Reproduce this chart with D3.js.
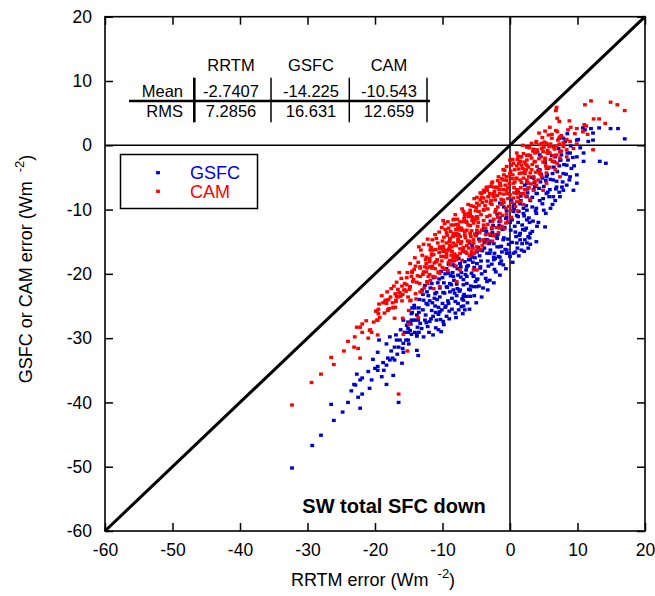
<!DOCTYPE html>
<html>
<head>
<meta charset="utf-8">
<script src="https://cdn.jsdelivr.net/npm/d3@7"></script>
<style>
  body { margin: 0; background: #fff; }
  text { font-family: "Liberation Sans", Arial, sans-serif; }
</style>
</head>
<body>
<div id="chart"></div>
<script>
// axis ticks
const xTicks = [-60, -50, -40, -30, -20, -10, 0, 10, 20];
const yTicks = [-60, -50, -40, -30, -20, -10, 0, 10, 20];

// error statistics table
const tableCols = ["RRTM", "GSFC", "CAM"];
const tableRows = ["Mean", "RMS"];
const meanVals = ["-2.7407", "-14.225", "-10.543"];
const rmsVals = ["7.2856", "16.631", "12.659"];

// [RRTM error, GSFC error]
const gsfcPoints = [
  [-32.3,-50.2],[-29.3,-46.7],[-28.0,-45.1],[-26.1,-42.8],[-26.5,-40.3],[-24.0,-40.0],[-22.2,-40.9],[-22.5,-39.2],
  [-21.9,-38.7],[-16.5,-40.0],[-23.1,-37.2],[-22.9,-37.3],[-22.2,-36.5],[-21.9,-36.2],[-22.7,-35.6],[-20.5,-36.5],
  [-20.8,-37.8],[-18.3,-37.2],[-20.0,-34.7],[-19.6,-35.0],[-19.6,-34.4],[-18.7,-35.0],[-18.3,-34.2],[-17.3,-35.8],
  [-18.1,-33.1],[-17.8,-33.4],[-17.4,-33.1],[-17.1,-33.4],[-16.0,-33.9],[-16.7,-32.5],[-19.6,-32.2],[-18.3,-30.9],
  [-19.4,-30.3],[-17.1,-31.4],[-16.5,-31.4],[-16.8,-30.3],[-16.3,-30.3],[-15.8,-30.8],[-15.4,-30.3],[-15.1,-30.3],
  [-15.9,-31.6],[-15.8,-32.2],[-15.0,-30.9],[-13.8,-31.9],[-13.6,-32.7],[-15.6,-29.1],[-15.1,-29.1],[-14.6,-29.4],
  [-14.1,-29.1],[-13.8,-29.4],[-15.1,-28.5],[-14.8,-28.8],[-15.8,-27.2],[-15.1,-27.5],[-14.6,-27.2],[-14.0,-27.2],
  [-14.5,-25.3],[-14.1,-25.3],[-14.6,-26.2],[-13.5,-25.3],[-13.5,-26.0],[-13.8,-29.7],[-13.5,-29.1],
  [-14.8,-27.7],[-14.3,-27.2],[-13.7,-28.3],[-13.3,-27.7],[-12.6,-27.2],[-12.2,-28.2],[-11.9,-27.4],[-11.4,-26.6],
  [-10.9,-27.2],[-10.6,-28.7],[-9.9,-27.4],[-9.4,-26.6],[-12.8,-24.1],[-12.4,-24.6],[-11.9,-24.2],[-11.1,-25.0],
  [-10.6,-25.2],[-10.4,-25.9],[-9.6,-25.2],[-9.1,-24.6],[-8.6,-25.5],[-8.1,-26.1],[-7.6,-25.6],[-7.2,-25.1],
  [-6.7,-25.6],[-6.9,-24.1],[-6.4,-23.5],[-11.1,-23.1],[-10.4,-22.2],[-9.9,-22.9],[-9.4,-22.0],[-8.9,-21.5],
  [-8.4,-22.5],[-7.9,-23.4],[-7.4,-22.5],[-8.1,-24.3],[-9.1,-19.9],[-8.4,-20.4],[-7.7,-20.2],[-6.9,-20.9],
  [-6.4,-20.4],[-5.7,-19.9],[-4.9,-20.9],[-5.4,-22.0],[-5.9,-22.5],[-6.9,-21.7],[-8.4,-18.6],[-7.4,-18.4],
  [-6.4,-18.9],[-5.9,-17.8],[-4.9,-18.4],[-5.4,-16.8],[-4.9,-13.7],[-3.9,-13.2],[-3.4,-14.7],[-2.9,-14.0],
  [-2.4,-15.3],[-1.9,-14.5],[-1.5,-15.8],[-1.0,-14.7],[-0.5,-16.3],[-4.4,-16.3],[-3.4,-16.8],[-2.4,-17.4],
  [-1.5,-17.4],[-5.7,-17.4],[0.5,-10.1],[1.2,-11.1],[2.0,-10.6],[2.5,-11.6],[0.7,-12.6],[1.5,-13.7],
  [2.2,-13.2],[2.7,-14.2],[1.0,-15.2],[1.7,-16.3],[2.5,-15.2],[0.5,-16.8],[-1.5,-9.0],[0.5,-9.5],
  [2.5,-10.1],[3.9,-10.6],[5.2,-12.7],[3.0,-13.7],[3.9,-15.0],[2.7,-16.0],[1.5,-14.7],[-0.5,-16.8],
  [-1.5,-18.4],[-2.4,-17.8],[-2.9,-16.3],[-4.4,-18.9],[-5.4,-20.4],[-3.4,-21.2],[-4.9,-22.0],[-6.9,-23.5],
  [12.0,2.6],[14.9,2.6],[16.0,2.6],[17.0,1.0],[13.2,2.7],[12.3,1.9],[11.6,0.6],[12.3,0.8],[10.8,2.7],[11.1,2.4],
  [8.5,1.8],[7.3,1.1],[7.9,1.1],[9.9,0.8],[10.9,-1.2],[10.9,-2.5],[13.3,-2.5],[14.2,-2.8],[9.9,-1.8],[8.9,-1.2],
  [4.4,-1.5],[5.7,-1.2],[6.7,-1.8],[7.4,-2.3],[8.4,-3.1],[9.1,-3.6],[9.9,-4.6],[8.9,-4.9],[8.4,-6.2],[7.9,-7.0],
  [6.9,-6.5],[6.4,-5.4],[5.4,-4.9],[4.4,-3.8],[3.5,-5.1],[2.5,-5.9],[3.9,-7.5],[5.4,-7.5],[6.4,-8.0],[7.4,-8.0],
  [9.4,-7.0],[9.9,-5.9],[7.9,-4.4],
  [-12.6,-21.8],[-12.1,-23.4],[-12.9,-25.6],[-11.7,-27.0],[-11.3,-20.6],[-10.9,-22.9],[-11.5,-24.5],[-10.6,-26.3],
  [-10.2,-19.6],[-9.8,-21.4],[-10.4,-23.6],[-9.5,-25.0],[-9.1,-18.5],[-8.8,-20.3],[-9.3,-22.1],[-8.6,-23.8],
  [-8.1,-17.3],[-7.8,-19.2],[-8.3,-21.0],[-7.5,-22.7],[-7.7,-24.6],[-7.0,-16.3],[-6.7,-18.1],[-7.2,-19.8],
  [-6.4,-21.5],[-6.8,-23.2],[-6.0,-15.2],[-5.7,-17.0],[-6.2,-18.7],[-5.4,-20.3],[-5.8,-21.9],[-5.0,-14.0],
  [-4.7,-15.9],[-5.2,-17.5],[-4.4,-19.1],[-4.8,-20.8],[-3.9,-12.9],[-3.6,-14.7],[-4.1,-16.4],[-3.3,-18.0],
  [-3.7,-19.6],[-2.9,-11.8],[-2.6,-13.6],[-3.1,-15.3],[-2.3,-16.8],[-2.7,-18.5],[-1.9,-10.7],[-1.6,-12.5],
  [-2.0,-14.2],[-1.3,-15.7],[-1.7,-17.3],[-0.9,-9.6],[-0.6,-11.4],[-1.1,-13.1],[-0.3,-14.6],[-0.7,-16.2],
  [0.2,-8.5],[0.5,-10.3],[0.0,-12.0],[0.8,-13.5],[0.3,-15.1],[1.2,-7.3],[1.5,-9.1],[1.0,-10.9],[1.8,-12.4],
  [1.4,-14.0],[2.2,-6.2],[2.5,-8.0],[2.0,-9.8],[2.8,-11.3],[2.4,-12.9],[3.2,-5.0],[3.5,-6.9],[3.0,-8.6],
  [3.8,-10.2],[3.4,-11.8],[4.2,-3.9],[4.5,-5.7],[4.0,-7.5],[4.8,-9.1],[5.2,-2.7],[5.5,-4.6],[5.0,-6.4],
  [5.8,-8.0],[6.2,-1.6],[6.5,-3.4],[6.0,-5.3],[6.8,-6.8],[7.2,-0.5],[7.5,-2.3],[7.0,-4.1],[7.8,-5.7],
  [8.2,0.6],[8.5,-1.2],[8.0,-3.0],[9.0,-0.1],[9.3,-1.9],[10.1,0.9],[-13.4,-24.0],[-13.8,-26.4],[-14.2,-24.9],
  [-14.7,-27.8],[-13.1,-28.5],[-12.4,-27.6],[-11.0,-28.4],[-12.0,-29.1],[-9.8,-27.9],
  [-13.0,-22.5],[-12.5,-26.4],[-12.2,-24.8],[-11.8,-22.2],[-11.6,-25.7],[-11.2,-23.8],[-10.7,-21.4],[-10.8,-24.0],
  [-10.3,-27.1],[-10.0,-20.6],[-10.1,-25.6],[-9.7,-23.0],[-9.4,-19.2],[-9.2,-24.2],[-8.9,-22.8],[-8.7,-18.0],
  [-8.5,-19.8],[-8.2,-23.0],[-7.9,-21.6],[-7.6,-17.6],[-7.3,-20.5],[-7.1,-23.9],[-6.6,-16.6],[-6.5,-19.4],
  [-6.1,-22.4],[-6.3,-24.5],[-5.6,-15.6],[-5.5,-18.2],[-5.1,-21.2],[-5.3,-23.4],[-4.6,-14.6],[-4.5,-17.2],
  [-4.2,-20.0],[-4.0,-22.2],[-3.5,-13.4],[-3.8,-16.0],[-3.2,-18.8],[-3.0,-21.0],[-2.5,-12.5],[-2.8,-15.0],
  [-2.2,-17.6],[-2.1,-19.7],[-1.5,-11.3],[-1.8,-13.9],[-1.2,-16.6],[-1.0,-18.6],[-0.5,-10.2],[-0.8,-12.8],
  [-0.2,-15.4],[0.0,-17.3],[0.6,-9.2],[0.3,-11.6],[0.9,-14.2],[1.1,-16.0],[1.6,-7.9],[1.3,-10.3],[1.9,-13.1],
  [2.2,-14.7],[2.6,-6.8],[2.4,-9.4],[2.9,-12.0],[3.3,-13.4],[3.6,-5.8],[3.3,-8.1],[3.9,-9.8],[4.2,-12.0],
  [4.6,-4.5],[4.3,-6.7],[4.9,-8.3],[5.3,-10.6],[5.6,-3.6],[5.3,-5.5],[5.9,-6.9],[6.3,-9.2],[6.6,-2.6],
  [6.3,-4.4],[6.9,-5.6],[7.3,-7.3],[7.6,-1.5],[7.3,-3.2],[8.3,-4.5],[8.6,-2.3],[9.5,-3.2],[10.4,-0.4],
  [-14.5,-26.0],[-15.3,-28.0],[-13.6,-27.2],[-12.8,-29.8],[-11.4,-29.5],[-10.2,-29.0],[-9.0,-27.0],[-8.0,-26.8],
  [-7.0,-26.2],[-6.0,-25.5],[-5.0,-24.5],[-4.2,-23.6],[-3.3,-22.5],[-2.4,-21.4],[-1.5,-20.2],[-0.6,-19.2],
  [0.4,-18.2],[1.3,-17.2],[2.1,-16.5],[3.0,-15.4],[-17.6,-32.0],[-16.9,-29.5],[-18.8,-33.8],[-20.3,-33.3],
  [-21.0,-35.2],[-19.0,-36.0],[-23.5,-38.2],[-24.8,-41.5],[-16.2,-28.7],[-17.8,-29.8],
  [-12.9,-23.2],[-12.3,-22.8],[-11.6,-21.5],[-11.0,-26.0],[-10.5,-20.8],[-10.0,-24.6],[-9.6,-20.0],[-9.0,-25.8],
  [-8.7,-21.7],[-8.2,-18.8],[-7.8,-22.3],[-7.3,-18.9],[-6.9,-25.0],[-6.6,-20.1],[-6.1,-17.8],[-5.9,-23.5],
  [-5.3,-19.0],[-4.9,-16.6],[-4.6,-21.9],[-4.3,-18.0],[-3.8,-15.1],[-3.6,-20.7],[-3.0,-16.8],[-2.7,-13.0],
  [-2.3,-19.3],[-1.9,-15.8],[-1.6,-11.9],[-1.3,-18.0],[-0.9,-14.4],[-0.5,-11.2],[-0.2,-16.8],[0.1,-13.2],
  [0.6,-9.8],[0.8,-16.6],[1.2,-12.0],[1.6,-8.6],[1.8,-15.3],[2.1,-11.0],[2.6,-7.4],[2.9,-14.4],[3.3,-9.6],
  [3.7,-6.4],[4.0,-12.6],[4.4,-8.6],[4.8,-5.1],[5.0,-10.1],[5.6,-7.3],[6.0,-9.8],[6.7,-8.6],[7.7,-6.5],[8.8,-5.4]
];

// [RRTM error, CAM error]
const camPoints = [
  [-32.3,-40.4],[-29.4,-36.9],[-28.0,-35.6],[-26.5,-33.0],[-26.1,-34.1],[-24.0,-30.5],[-23.1,-31.4],[-22.5,-31.6],
  [-22.2,-33.1],[-22.7,-28.3],[-22.2,-28.3],[-21.9,-27.8],[-21.9,-29.1],[-20.8,-28.8],[-20.5,-29.1],[-19.6,-29.5],
  [-16.5,-38.7],[-15.2,-32.0],[-15.8,-29.4],[-19.6,-27.2],[-19.4,-24.7],[-19.7,-25.8],[-19.5,-26.2],[-18.3,-24.1],
  [-18.3,-24.6],[-18.1,-25.7],[-17.3,-25.2],[-17.1,-26.9],[-17.3,-25.3],[-16.9,-24.1],[-16.0,-24.2],[-15.9,-26.9],
  [-15.0,-25.7],[-15.0,-27.8],[-13.6,-26.8],[-14.8,-24.2],[-20.7,-28.7],[-19.9,-25.8],[-19.5,-25.5],[-19.7,-27.2],
  [-18.5,-24.2],[-18.0,-24.0],[-18.1,-25.6],[-17.0,-25.2],[-16.6,-23.6],[-16.4,-22.9],[-15.7,-22.5],[-15.3,-21.7],
  [-14.8,-22.0],[-14.7,-24.1],[-14.5,-19.8],[-14.2,-19.3],[-13.7,-20.3],[-13.3,-18.9],[-13.4,-21.5],[-13.1,-22.8],
  [-14.0,-23.1],[-12.8,-19.7],[-12.4,-18.4],[-11.9,-18.1],[-12.3,-19.1],[-11.5,-18.8],[-10.9,-18.1],[-10.6,-19.7],
  [-11.9,-20.1],[-11.1,-20.5],[-12.3,-21.2],[-10.4,-19.9],[-11.6,-17.1],[-10.4,-16.0],[-9.9,-16.5],[-9.4,-17.3],
  [-10.4,-22.0],[-11.3,-22.3],[-8.9,-14.7],[-8.4,-14.2],[-7.9,-13.7],[-7.4,-13.2],[-8.1,-15.5],[-7.2,-15.0],
  [-8.9,-16.3],[-8.4,-11.6],[-7.7,-12.4],[-6.9,-11.9],[-6.2,-12.4],[-5.4,-11.6],[-4.9,-13.2],[-5.9,-13.7],
  [-6.7,-14.0],[-5.4,-14.7],[-4.9,-15.8],[-5.7,-16.5],[-6.4,-16.8],[-7.9,-21.2],[-8.9,-18.6],[-7.9,-17.8],
  [-7.4,-19.4],[-5.4,-19.4],[-4.9,-19.4],[-12.4,-17.4],[-11.6,-16.9],[-11.4,-16.3],[-10.4,-15.8],[-9.9,-16.0],
  [-9.4,-15.2],[-8.6,-15.8],[-8.9,-14.5],[-8.4,-13.7],[-7.9,-14.0],[-9.9,-11.7],[-9.1,-12.9],[-8.4,-12.4],
  [-7.7,-12.9],[-7.4,-11.9],[-6.7,-11.1],[-6.2,-10.6],[-5.9,-10.1],[-5.7,-11.1],[-5.2,-11.6],[-5.4,-9.5],
  [-4.9,-9.0],[-4.4,-8.5],[-4.2,-7.5],[-3.9,-7.0],[-3.4,-6.5],[-3.2,-8.0],[-2.7,-5.9],[-2.4,-7.5],[-1.9,-6.5],
  [-2.2,-8.5],[-1.5,-5.9],[-1.0,-5.4],[-1.5,-7.5],[-1.0,-8.5],[-0.5,-4.9],[-0.5,-7.0],[-0.5,-3.3],[0.0,-2.3],
  [0.5,-2.8],[0.7,-3.8],[1.2,-1.7],[1.7,-3.1],[2.2,-4.4],[2.5,-2.3],[1.5,-5.4],[0.5,-5.9],[1.0,-7.5],
  [-18.3,-24.1],[-16.8,-23.5],[-16.3,-23.0],[-15.6,-22.5],[-14.8,-22.0],[-14.3,-20.9],[-13.3,-20.4],[-12.4,-19.7],
  [-11.9,-18.9],[-10.9,-18.1],[-9.9,-17.3],[-9.4,-16.3],[-8.4,-15.2],[-7.4,-14.2],[-6.4,-13.2],[-5.4,-12.1],
  [-4.9,-11.1],[-3.9,-10.1],[-2.9,-9.0],
  [12.0,6.9],[14.9,6.7],[15.9,6.3],[17.0,5.4],[11.1,6.3],[6.9,5.9],[6.8,5.4],[7.0,4.2],[7.3,3.7],[8.8,3.8],
  [13.2,4.1],[12.4,4.1],[14.1,3.4],[5.9,2.8],[5.2,2.2],[4.3,1.9],[6.2,1.7],[7.0,2.1],[9.0,2.8],[9.9,2.6],
  [11.0,3.2],[11.3,3.0],[10.8,2.1],[11.5,1.7],[9.6,1.8],[12.3,-0.7],[7.4,1.3],[8.4,0.9],[7.9,0.4],[8.9,0.6],
  [9.9,0.2],[3.2,0.3],[3.9,0.6],[4.7,0.3],[5.4,0.3],[2.5,-0.3],[3.5,-0.6],[4.7,-0.5],[5.9,0.0],[6.9,-0.1],
  [7.9,-0.2],[1.7,-1.8],[2.7,-1.5],[3.7,-1.2],[4.9,-1.0],[5.9,-1.2],[7.4,-1.0],[8.4,-0.7],[9.4,-0.5],[1.5,-2.5],
  [2.5,-3.1],[3.7,-2.5],[5.2,-2.3],[6.4,-2.5],[7.4,-2.0],[8.4,-1.8],[2.2,-4.1],[3.2,-3.8],[4.4,-4.4],[5.4,-3.6],
  [6.7,-3.8],[7.4,-4.9],[1.0,-5.1],[2.5,-5.4],[3.9,-6.2],[5.4,-5.9],[1.0,-7.0],[2.0,-7.5],[3.5,-7.0],[4.9,-7.0],
  [-3.4,-7.0],[-2.4,-6.5],[-1.5,-5.9],[-0.5,-4.9],[-1.0,-3.8],[-2.4,-8.0],[-3.9,-8.2],[0.0,-4.4],[1.9,0.0],
  [1.0,-1.2],[1.5,-1.8],
  [-12.2,-14.6],[-11.8,-16.3],[-12.5,-17.8],[-11.6,-19.1],[-11.1,-13.9],[-10.7,-15.2],[-11.3,-17.0],[-10.4,-18.6],
  [-10.1,-12.8],[-9.8,-14.3],[-10.3,-16.1],[-9.5,-17.4],[-9.7,-19.3],[-9.2,-11.9],[-8.8,-13.4],[-9.0,-15.0],
  [-8.6,-16.5],[-8.3,-18.0],[-8.1,-10.8],[-7.9,-12.3],[-7.6,-13.9],[-8.0,-15.6],[-7.4,-16.8],[-7.1,-9.9],
  [-6.8,-11.4],[-7.2,-12.9],[-6.6,-14.4],[-6.9,-15.9],[-6.2,-9.2],[-5.9,-10.6],[-6.4,-12.0],[-5.7,-13.3],
  [-6.0,-14.9],[-5.3,-8.3],[-5.0,-9.7],[-5.5,-11.2],[-4.8,-12.6],[-5.1,-14.1],[-4.4,-7.4],[-4.1,-8.9],
  [-4.6,-10.3],[-3.9,-11.7],[-4.2,-13.2],[-3.5,-6.6],[-3.2,-8.0],[-3.7,-9.4],[-3.0,-10.9],[-3.3,-12.3],
  [-2.6,-5.7],[-2.3,-7.2],[-2.8,-8.6],[-2.1,-10.0],[-2.4,-11.5],[-1.7,-4.9],[-1.4,-6.3],[-1.9,-7.8],
  [-1.2,-9.2],[-1.5,-10.6],[-0.8,-3.9],[-0.5,-5.5],[-1.0,-6.9],[-0.3,-8.3],[-0.6,-9.8],[0.2,-3.1],
  [0.4,-4.6],[-0.1,-6.0],[0.6,-7.4],[0.3,-8.9],[1.1,-2.2],[1.3,-3.7],[0.9,-5.2],[1.6,-6.6],[1.2,-8.1],
  [2.0,-1.3],[2.3,-2.9],[1.8,-4.3],[2.6,-5.8],[2.9,-0.4],[3.2,-2.0],[2.7,-3.4],[3.5,-4.9],[3.9,0.4],
  [4.1,-1.1],[3.6,-2.6],[4.4,-3.9],[4.8,1.2],[5.0,-0.3],[4.6,-1.8],[5.3,-3.2],[5.7,1.6],[6.0,0.2],
  [5.5,-1.2],[6.3,-2.5],[6.8,2.3],[7.1,0.8],[6.6,-0.6],[7.6,1.5],[8.0,0.1],[8.6,2.4],[-13.2,-16.3],
  [-13.6,-18.2],[-12.9,-20.1],[-14.1,-17.5],[-14.5,-19.6],[-13.8,-21.3],[-15.2,-19.8],[-15.6,-21.5],
  [-16.1,-20.7],[-16.6,-22.4],[-17.2,-21.9],[-17.7,-23.6],[-18.2,-22.8],[-18.8,-24.5],[-17.9,-25.4],
  [-16.9,-24.3],[-15.9,-23.2],[-14.9,-22.4],[-13.9,-23.9],[-12.7,-22.2],[-11.8,-21.0],
  [-13.5,-15.8],[-13.0,-17.1],[-12.6,-18.9],[-12.0,-15.5],[-11.5,-14.7],[-11.9,-17.6],[-11.0,-16.2],[-10.8,-17.8],
  [-10.5,-13.5],[-10.0,-14.9],[-10.2,-17.3],[-9.6,-13.1],[-9.3,-14.0],[-9.9,-15.7],[-9.4,-16.8],[-9.1,-18.2],
  [-8.7,-12.4],[-8.5,-14.2],[-8.9,-15.6],[-8.2,-16.9],[-8.4,-17.5],[-7.8,-11.5],[-7.5,-12.8],[-7.7,-14.6],
  [-7.3,-15.3],[-7.0,-16.5],[-6.9,-10.3],[-6.5,-11.8],[-6.7,-13.5],[-6.3,-14.9],[-6.1,-16.0],[-5.8,-9.4],
  [-5.6,-11.7],[-5.9,-12.5],[-5.2,-13.8],[-5.4,-15.2],[-4.9,-8.1],[-4.6,-9.3],[-4.3,-10.8],[-4.7,-12.0],
  [-4.5,-13.6],[-4.0,-14.7],[-3.8,-7.3],[-3.5,-8.7],[-3.9,-10.0],[-3.4,-11.1],[-3.6,-12.9],[-3.1,-13.8],
  [-2.9,-6.4],[-2.5,-7.8],[-2.7,-9.2],[-2.2,-10.4],[-2.6,-11.9],[-2.0,-12.8],[-1.8,-5.5],[-1.6,-6.9],
  [-1.3,-8.4],[-1.8,-9.6],[-1.1,-10.9],[-1.4,-11.8],[-0.9,-4.6],[-0.7,-6.2],[-0.4,-7.5],[-0.9,-8.9],
  [-0.2,-9.5],[-0.5,-10.7],[0.1,-4.0],[0.3,-5.2],[0.6,-6.6],[0.0,-7.7],[0.5,-8.2],[0.8,-9.5],[1.0,-3.2],
  [1.4,-4.4],[1.7,-5.8],[1.1,-6.9],[1.5,-8.7],[2.1,-2.6],[2.4,-3.8],[2.0,-5.1],[2.8,-6.6],[2.3,-7.9],
  [3.0,-1.6],[3.3,-3.0],[3.0,-4.3],[3.7,-5.6],[4.0,-0.7],[4.3,-2.1],[4.0,-3.3],[4.7,-4.8],[5.1,0.5],
  [5.6,-0.8],[5.2,-2.0],[5.9,-3.4],[6.2,1.1],[6.4,-0.3],[6.9,-1.5],[6.0,-2.2],[7.3,0.2],[7.6,-0.9],
  [-14.8,-18.4],[-15.3,-20.6],[-14.4,-21.2],[-16.0,-21.9],[-16.4,-19.8],[-17.0,-23.1],[-17.6,-22.3],[-15.1,-23.6],
  [-13.3,-22.8],[-12.2,-21.5],[-11.4,-20.4],[-10.6,-19.8],[-9.2,-19.5],[-8.0,-18.8],[-7.1,-17.9],[-6.0,-17.2],
  [-5.0,-16.4],[-4.1,-15.6],[-3.2,-14.8],[-2.3,-13.9],[-1.2,-12.6],[-0.3,-11.8],[-19.0,-23.4],[-19.3,-26.8],
  [-20.2,-27.5],[-18.6,-26.1],[-21.3,-27.3],[-23.0,-29.8],[-24.6,-32.0],[-21.0,-30.0],
  [-11.7,-15.9],[-11.2,-18.3],[-10.9,-14.5],[-10.5,-16.7],[-10.1,-18.0],[-9.7,-12.2],[-9.4,-13.6],[-9.0,-16.0],
  [-8.7,-17.1],[-8.3,-11.5],[-8.0,-13.1],[-7.7,-15.0],[-7.4,-16.1],[-7.0,-13.2],[-6.7,-10.7],[-6.4,-15.6],
  [-6.1,-11.1],[-5.8,-14.2],[-5.5,-16.0],[-5.1,-10.2],[-4.8,-11.4],[-4.5,-14.9],[-4.2,-8.1],[-3.9,-12.4],
  [-3.6,-13.9],[-3.3,-9.9],[-3.0,-7.5],[-2.7,-12.8],[-2.4,-14.1],[-2.1,-6.6],[-1.8,-11.2],[-1.5,-12.9],
  [-1.2,-5.2],[-0.9,-7.6],[-0.6,-12.1],[-0.3,-6.6],[0.1,-10.1],[0.4,-2.2],[0.7,-5.7],[1.0,-8.8],[1.3,-2.8],
  [1.6,-7.5],[1.9,-3.6],[2.2,-6.9],[2.5,-1.6],[2.8,-4.9],[3.1,-6.0],[3.4,-0.9],[3.8,-4.2],[4.2,-5.4],
  [4.5,0.1],[4.9,-2.6],[5.4,-4.3],[5.8,-0.2],[6.5,-1.6],[7.0,-2.8],[-12.8,-15.4],[-13.3,-19.1],[-14.0,-18.8],
  [-14.6,-20.4],[-15.4,-22.7],[-16.2,-23.5],[-16.8,-21.3],[-17.4,-24.5],[-12.1,-20.4],[-11.1,-19.2],[-10.0,-19.0],
  [-8.9,-17.9],[-7.8,-17.2],[-6.6,-16.6],[-5.4,-16.9],[-4.4,-16.2],[-3.5,-15.2],[-2.6,-14.9],[-1.7,-13.6],
  [-0.8,-13.0],[0.2,-11.2],[1.1,-10.2],[2.0,-9.2],[3.0,-8.4]
];

const width = 655, height = 596;

const svg = d3.select("#chart")
    .append("svg")
    .attr("width", width)
    .attr("height", height);

const x = d3.scaleLinear().domain([-60, 20]).range([105, 645]);
const y = d3.scaleLinear().domain([-60, 20]).range([531, 16.7]);

const fmt = d => String(d);

// axes, ticks pointing inward
svg.append("g")
    .attr("transform", "translate(0," + y(-60) + ")")
    .call(d3.axisBottom(x).tickValues(xTicks).tickFormat(fmt).tickSizeInner(-8).tickSizeOuter(0).tickPadding(13));
svg.append("g")
    .attr("transform", "translate(" + x(-60) + ",0)")
    .call(d3.axisLeft(y).tickValues(yTicks).tickFormat(fmt).tickSizeInner(-8).tickSizeOuter(0).tickPadding(13));
svg.append("g")
    .attr("transform", "translate(0," + y(20) + ")")
    .call(d3.axisTop(x).tickValues(xTicks).tickFormat("").tickSizeInner(-8).tickSizeOuter(0));
svg.append("g")
    .attr("transform", "translate(" + x(20) + ",0)")
    .call(d3.axisRight(y).tickValues(yTicks).tickFormat("").tickSizeInner(-8).tickSizeOuter(0));

svg.selectAll(".domain").remove();
svg.selectAll(".tick line").attr("stroke", "#000").attr("stroke-width", 1.5);
svg.selectAll(".tick text")
    .attr("fill", "#000")
    .style("font-size", "17.5px")
    .style("font-family", "'Liberation Sans', Arial, sans-serif");

// frame
svg.append("rect")
    .attr("x", x(-60))
    .attr("y", y(20))
    .attr("width", x(20) - x(-60))
    .attr("height", y(-60) - y(20))
    .attr("fill", "none")
    .attr("stroke", "#000")
    .attr("stroke-width", 1.6);

// zero lines
svg.append("line")
    .attr("x1", x(0)).attr("x2", x(0))
    .attr("y1", y(20)).attr("y2", y(-60))
    .attr("stroke", "#000").attr("stroke-width", 1.5);
svg.append("line")
    .attr("x1", x(-60)).attr("x2", x(20))
    .attr("y1", y(0)).attr("y2", y(0))
    .attr("stroke", "#000").attr("stroke-width", 1.5);

// 1:1 line
svg.append("line")
    .attr("x1", x(-60)).attr("y1", y(-60))
    .attr("x2", x(20)).attr("y2", y(20))
    .attr("stroke", "#000").attr("stroke-width", 3);

// scatter points
const msW = 3.8, msH = 3.3;
svg.append("g")
    .selectAll("rect")
    .data(gsfcPoints)
    .enter()
    .append("rect")
    .attr("x", d => x(d[0]) - msW / 2)
    .attr("y", d => y(d[1]) - msH / 2)
    .attr("width", msW)
    .attr("height", msH)
    .attr("fill", "#0000cc");
svg.append("g")
    .selectAll("rect")
    .data(camPoints)
    .enter()
    .append("rect")
    .attr("x", d => x(d[0]) - msW / 2)
    .attr("y", d => y(d[1]) - msH / 2)
    .attr("width", msW)
    .attr("height", msH)
    .attr("fill", "#ff0000");

// legend
const legend = svg.append("g");
legend.append("rect")
    .attr("x", 120.5).attr("y", 154.5)
    .attr("width", 137).attr("height", 54)
    .attr("fill", "#fff").attr("stroke", "#000").attr("stroke-width", 1.5);
[["GSFC", "#0000cc", "#0000ee", 172.7], ["CAM", "#ff0000", "#ff0000", 191.3]].forEach(([name, c, tc, ly]) => {
    legend.append("rect")
        .attr("x", 158 - msW / 2).attr("y", ly - msH / 2)
        .attr("width", msW).attr("height", msH)
        .attr("fill", c);
    legend.append("text")
        .attr("x", 190).attr("y", ly + 6.3)
        .attr("fill", tc)
        .style("font-size", "18px")
        .text(name);
});

// statistics table
const colX = [231, 311, 389];
const tbl = svg.append("g").style("font-size", "16.5px");
tbl.selectAll(".hdr")
    .data(tableCols)
    .enter()
    .append("text")
    .attr("x", (d, i) => colX[i])
    .attr("y", 71)
    .attr("text-anchor", "middle")
    .text(d => d);
tbl.selectAll(".rowlab")
    .data(tableRows)
    .enter()
    .append("text")
    .attr("x", 183)
    .attr("y", (d, i) => [96.7, 117][i])
    .attr("text-anchor", "end")
    .text(d => d);
[meanVals, rmsVals].forEach((vals, r) => {
    tbl.selectAll(".v" + r)
        .data(vals)
        .enter()
        .append("text")
        .attr("x", (d, i) => colX[i])
        .attr("y", [96.7, 117][r])
        .attr("text-anchor", "middle")
        .text(d => d);
});
tbl.append("line")
    .attr("x1", 129).attr("x2", 430).attr("y1", 101).attr("y2", 101)
    .attr("stroke", "#000").attr("stroke-width", 2.6);
tbl.append("line")
    .attr("x1", 194.3).attr("x2", 194.3).attr("y1", 77.7).attr("y2", 122.3)
    .attr("stroke", "#000").attr("stroke-width", 2.6);
[271, 349.3, 427].forEach(lx => {
    tbl.append("line")
        .attr("x1", lx).attr("x2", lx).attr("y1", 77.7).attr("y2", 122.3)
        .attr("stroke", "#000").attr("stroke-width", 1.5);
});

// panel title
svg.append("text")
    .attr("x", 394).attr("y", 513)
    .attr("text-anchor", "middle")
    .style("font-size", "20px")
    .style("font-weight", "bold")
    .text("SW total SFC down");

// axis titles
const xl = svg.append("text")
    .attr("x", 373).attr("y", 586)
    .attr("text-anchor", "middle")
    .style("font-size", "18px");
xl.append("tspan").text("RRTM error (Wm");
xl.append("tspan").attr("dx", 9).attr("dy", -8).style("font-size", "13px").text("-2");
xl.append("tspan").attr("dy", 8).text(")");

const yl = svg.append("text")
    .attr("transform", "translate(32,269) rotate(-90)")
    .attr("text-anchor", "middle")
    .style("font-size", "18px");
yl.append("tspan").text("GSFC or CAM error (Wm");
yl.append("tspan").attr("dx", 9).attr("dy", -8).style("font-size", "13px").text("-2");
yl.append("tspan").attr("dy", 8).text(")");
</script>
</body>
</html>
